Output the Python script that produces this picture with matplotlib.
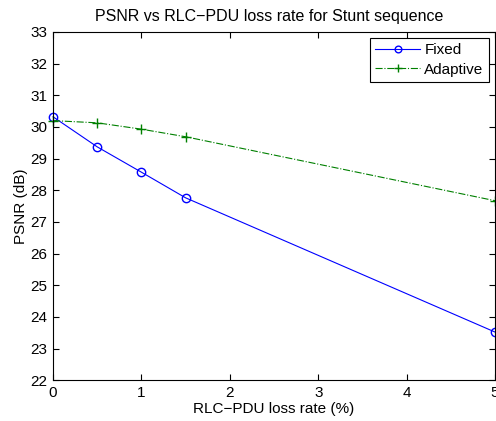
import matplotlib
matplotlib.use('Agg')
import matplotlib.pyplot as plt

loss_rate = [0, 0.5, 1, 1.5, 5]
psnr_fixed = [30.32, 29.37, 28.57, 27.76, 23.52]
psnr_adaptive = [30.2, 30.13, 29.93, 29.69, 27.67]

plt.rcParams['font.family'] = ['Liberation Sans', 'DejaVu Sans']

fig = plt.figure(figsize=(4.96, 4.21), dpi=100)
ax = fig.add_axes([0.107, 0.097, 0.891, 0.827])

ax.plot(loss_rate, psnr_fixed, color='blue', marker='o', markersize=6,
        markerfacecolor='none', linewidth=0.8, label='Fixed', clip_on=False)
ax.plot(loss_rate, psnr_adaptive, color='green', marker='+', markersize=7,
        linestyle='-.', linewidth=0.8, label='Adaptive', clip_on=False)

ax.set_xlim(0, 5)
ax.set_ylim(22, 33)
ax.set_xticks(range(0, 6))
ax.set_yticks(range(22, 34))
ax.tick_params(direction='in', top=True, right=True, labelsize=11, length=4, pad=4)
ax.set_xlabel('RLC\u2212PDU loss rate (%)', fontsize=11, labelpad=2)
ax.set_ylabel('PSNR (dB)', fontsize=11, labelpad=2)
ax.set_title('PSNR vs RLC\u2212PDU loss rate for Stunt sequence', fontsize=11.5, pad=8, x=0.49)

leg = ax.legend(loc='upper right', fontsize=11, fancybox=False, framealpha=1,
                edgecolor='black', handlelength=2.9, handletextpad=0.3,
                borderpad=0.35, labelspacing=0.35, borderaxespad=0.4,
                markerscale=0.8)
leg.get_frame().set_linewidth(0.8)

fig.savefig('out.png', dpi=100)
